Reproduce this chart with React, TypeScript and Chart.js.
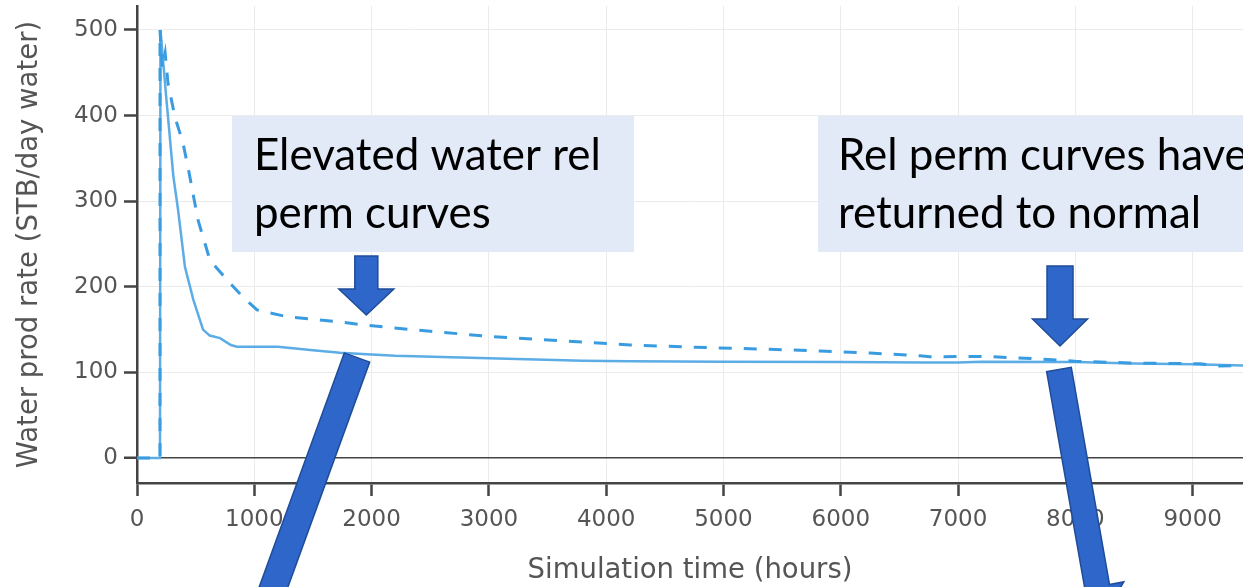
import React, { useEffect, useRef } from "react";
import { Chart, registerables } from "chart.js";

Chart.register(...registerables);

// ---- data ----
const solidTime = [0, 196, 200, 250, 310, 350, 409, 480, 563, 620, 708, 800, 852, 1000, 1200, 1500, 1730, 2000, 2200, 3000, 3800, 4200, 5000, 6000, 6700, 7000, 7200, 8000, 8500, 9000, 9430];
const solidRate = [0, 0, 500, 420, 329, 290, 223, 185, 150, 143, 140, 132, 130, 130, 130, 126, 123, 121, 119.5, 116.5, 113.5, 113, 112.5, 112, 111.5, 111.5, 112.5, 112, 110.5, 109.5, 108];

const dashedTime = [0, 196, 196, 215, 240, 264, 324, 392, 443, 520, 622, 767, 904, 1023, 1279, 1730, 1960, 2500, 3009, 3600, 4203, 4970, 5396, 5823, 6249, 6675, 6760, 7272, 7698, 8000, 8465, 9060, 9230, 9430];
const dashedRate = [0, 0, 500, 455, 473, 438, 398, 368, 334, 278, 231, 208, 188, 173, 165, 159, 155, 148, 142, 137, 132, 128.5, 127, 125, 122.6, 119.5, 118.4, 118.5, 115.6, 113, 111, 110, 107.5, 108];

const xTicks = [0, 1000, 2000, 3000, 4000, 5000, 6000, 7000, 8000, 9000];
const yTicks = [0, 100, 200, 300, 400, 500];

const xTitle = "Simulation time (hours)";
const yTitle = "Water prod rate (STB/day water)";

const box1Lines = ["Elevated water rel", "perm curves"];
const box2Lines = ["Rel perm curves have", "returned to normal"];

// ---- annotation layout (in data coordinates) ----
const boxes = [
  { x0: 810, x1: 4237, y0: 399.5, y1: 240.6, textX: 997, lines: box1Lines },
  { x0: 5806, x1: 9700, y0: 399.5, y1: 240.6, textX: 5976, lines: box2Lines },
];
const textBaselines = [336.4, 268.7];

const arrows = [
  { x0: 1955, y0: 236, x1: 1955, y1: 167, shaft: 23, head: 55, headLen: 26 },
  { x0: 7869, y0: 224.3, x1: 7869, y1: 130.8, shaft: 26, head: 55, headLen: 27 },
  { x0: 1875.5, y0: 117.4, x1: 1018.8, y1: -205.5, shaft: 27, head: 55, headLen: 32 },
  { x0: 7860, y0: 103.4, x1: 8233, y1: -187, shaft: 25, head: 54, headLen: 32 },
];

const LINE_COLOR_SOLID = "rgb(92,172,230)";
const LINE_COLOR_DASH = "rgb(58,156,224)";
const AXIS_COLOR = "#444";
const TEXT_COLOR = "#555";
const GRID_COLOR = "#ebebeb";

function drawBlockArrow(ctx: CanvasRenderingContext2D, x0: number, y0: number, x1: number, y1: number, sw: number, hw: number, hl: number) {
  const dx = x1 - x0, dy = y1 - y0;
  const L = Math.hypot(dx, dy);
  const ux = dx / L, uy = dy / L;
  const nx = -uy, ny = ux;
  const bx = x0 + ux * (L - hl), by = y0 + uy * (L - hl);
  const pts = [
    [x0 + nx * sw / 2, y0 + ny * sw / 2],
    [bx + nx * sw / 2, by + ny * sw / 2],
    [bx + nx * hw / 2, by + ny * hw / 2],
    [x1, y1],
    [bx - nx * hw / 2, by - ny * hw / 2],
    [bx - nx * sw / 2, by - ny * sw / 2],
    [x0 - nx * sw / 2, y0 - ny * sw / 2],
  ];
  ctx.beginPath();
  ctx.moveTo(pts[0][0], pts[0][1]);
  for (let i = 1; i < pts.length; i++) ctx.lineTo(pts[i][0], pts[i][1]);
  ctx.closePath();
  ctx.fillStyle = "#2f66c9";
  ctx.fill();
  ctx.lineWidth = 1.5;
  ctx.strokeStyle = "#1f4c98";
  ctx.lineJoin = "miter";
  ctx.stroke();
}

const annotationPlugin = {
  id: "annotations",
  afterDraw(chart: any) {
    const ctx: CanvasRenderingContext2D = chart.ctx;
    const xs = chart.scales.x, ys = chart.scales.y;
    const px = (v: number) => xs.getPixelForValue(v);
    const py = (v: number) => ys.getPixelForValue(v);
    ctx.save();
    let size = 44;
    ctx.font = `${size}px Lato`;
    const w = ctx.measureText(box1Lines[0]).width;
    size = size * 347 / w;
    for (const b of boxes) {
      const x0 = px(b.x0), x1 = px(b.x1), y0 = py(b.y0), y1 = py(b.y1);
      ctx.fillStyle = "rgb(226,234,248)";
      ctx.fillRect(x0, y0, x1 - x0, y1 - y0);
      ctx.fillStyle = "#000";
      ctx.font = `${size}px Lato`;
      ctx.textBaseline = "alphabetic";
      ctx.textAlign = "left";
      b.lines.forEach((line, i) => {
        ctx.fillText(line, px(b.textX), py(textBaselines[i]));
      });
    }
    for (const a of arrows) {
      drawBlockArrow(ctx, px(a.x0), py(a.y0), px(a.x1), py(a.y1), a.shaft, a.head, a.headLen);
    }
    ctx.restore();
  },
};

export default function App() {
  const ref = useRef<HTMLCanvasElement | null>(null);
  useEffect(() => {
    document.body.style.margin = "0";
    const canvas = ref.current!;
    const chart = new Chart(canvas, {
      type: "line",
      data: {
        datasets: [
          {
            label: "dashed",
            data: dashedTime.map((t, i) => ({ x: t, y: dashedRate[i] })),
            borderColor: LINE_COLOR_DASH,
            borderWidth: 3,
            borderDash: [13, 12],
            pointRadius: 0,
            tension: 0,
            fill: false,
          },
          {
            label: "solid",
            data: solidTime.map((t, i) => ({ x: t, y: solidRate[i] })),
            borderColor: LINE_COLOR_SOLID,
            borderWidth: 2.5,
            pointRadius: 0,
            tension: 0,
            fill: false,
          },
        ],
      },
      options: {
        animation: false,
        responsive: false,
        devicePixelRatio: 1,
        layout: { padding: { top: 6, left: 0, right: 0, bottom: 0 } },
        plugins: { legend: { display: false }, tooltip: { enabled: false } },
        scales: {
          x: {
            type: "linear",
            min: 0,
            max: 9429,
            afterBuildTicks: (s: any) => { s.ticks = xTicks.map((v) => ({ value: v })); },
            afterFit: (s: any) => { s.height = 104; s.paddingLeft = 0; s.paddingRight = 0; },
            border: { display: true, color: AXIS_COLOR, width: 2.5 },
            grid: { color: GRID_COLOR, lineWidth: 1, tickLength: 13, tickColor: AXIS_COLOR, tickWidth: 2.5 },
            ticks: { color: TEXT_COLOR, font: { family: "DejaVu Sans", size: 23 }, padding: 10, maxRotation: 0, autoSkip: false, callback: (v: any) => String(v) },
            title: { display: true, text: xTitle, color: TEXT_COLOR, font: { family: "DejaVu Sans", size: 27.5 }, padding: { top: 0, bottom: 0 } },
          },
          y: {
            type: "linear",
            min: -29.2,
            max: 528,
            afterBuildTicks: (s: any) => { s.ticks = yTicks.map((v) => ({ value: v })); },
            afterFit: (s: any) => { s.width = 137; s.paddingTop = 0; s.paddingBottom = 0; },
            border: { display: true, color: AXIS_COLOR, width: 2.5 },
            grid: {
              color: (c: any) => (c.tick && c.tick.value === 0 ? AXIS_COLOR : GRID_COLOR),
              lineWidth: (c: any) => (c.tick && c.tick.value === 0 ? 1.5 : 1),
              tickLength: 13,
              tickColor: AXIS_COLOR,
              tickWidth: 2.5,
            },
            ticks: { color: TEXT_COLOR, font: { family: "DejaVu Sans", size: 23 }, padding: 6, autoSkip: false, callback: (v: any) => String(v) },
            title: { display: true, text: yTitle, color: TEXT_COLOR, font: { family: "DejaVu Sans", size: 27.5 }, padding: { top: 13, bottom: 0 } },
          },
        },
      },
      plugins: [annotationPlugin],
    } as any);
    return () => chart.destroy();
  }, []);
  return (
    <div style={{ position: "absolute", left: 0, top: 0, width: 1243, height: 587, background: "#fff", overflow: "hidden" }}>
      <canvas ref={ref} width={1243} height={587} style={{ display: "block" }} />
    </div>
  );
}
